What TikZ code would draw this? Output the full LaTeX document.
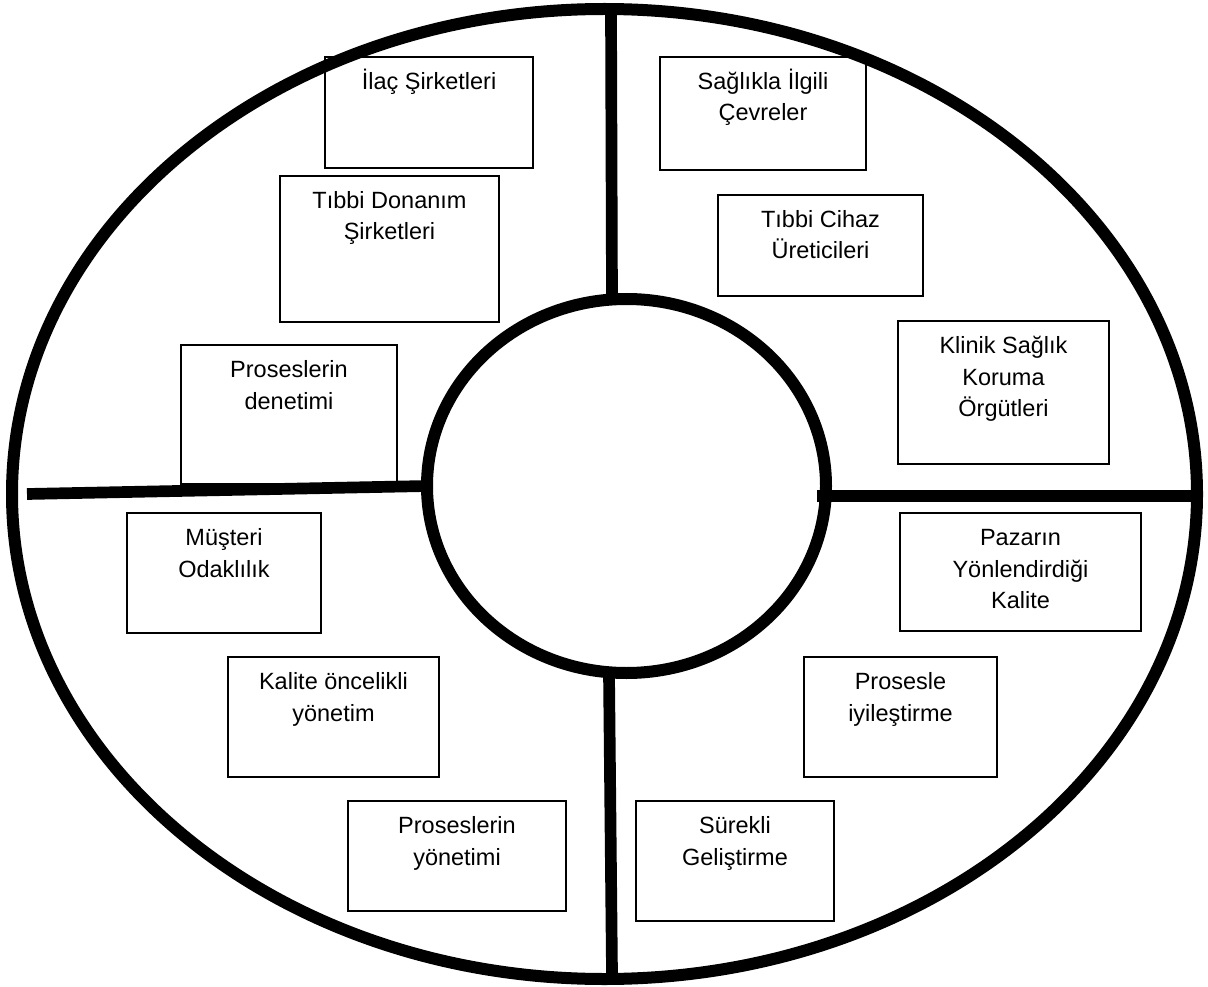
\documentclass[tikz,border=0pt]{standalone}
\usepackage{fontspec}
\setmainfont{Liberation Sans}
\tikzset{
  box/.style={draw, line width=1.8pt, inner sep=0pt, outer sep=0pt},
  lbl/.style={anchor=base, inner sep=0pt, font=\fontsize{23.5}{31.5}\selectfont},
  ring/.style={line width=12pt},
  bar/.style={line width=11.7pt}
}
\newcommand\mkbox[6]{%
  \node[box, minimum width={#4-#2}, minimum height={#5-#3}] (#1) at ({(#2+#4)/2},{(#3+#5)/2}) {};
  \node[lbl] (#1t) at ({(#2+#4)/2},{#3+32.5}) {\begin{tabular}[t]{@{}c@{}}#6\end{tabular}};
}
\begin{document}
\begin{tikzpicture}[x=1pt,y=-1pt]
\fill[white] (0,0) rectangle (1208,987);
\useasboundingbox (0,0) rectangle (1208,987);
% outer ellipse and inner circle
\draw[ring] (604.5,494) ellipse [x radius=592.5, y radius=485];
\draw[ring] (626.5,486) ellipse [x radius=199.5, y radius=187];
% dividers
\draw[bar] (611,9) -- (612,300);
\draw[bar] (27,494) -- (427,486);
\draw[bar] (817,496) -- (1192,496);
\draw[bar] (609,673) -- (612,973);
% left half boxes
\mkbox{b1}{325}{57}{533}{168}{İlaç Şirketleri}
\mkbox{b2}{280}{176}{499}{322}{Tıbbi Donanım\\Şirketleri}
\mkbox{b3}{181}{345}{397}{484}{Proseslerin\\denetimi}
\mkbox{b4}{127}{513}{321}{633}{Müşteri\\Odaklılık}
\mkbox{b5}{228}{657}{439}{777}{Kalite öncelikli\\yönetim}
\mkbox{b6}{348}{801}{566}{911}{Proseslerin\\yönetimi}
% right half boxes
\mkbox{b7}{660}{57}{866}{170}{Sağlıkla İlgili\\Çevreler}
\mkbox{b8}{718}{195}{923}{296}{Tıbbi Cihaz\\Üreticileri}
\mkbox{b9}{898}{321}{1109}{464}{Klinik Sağlık\\Koruma\\Örgütleri}
\mkbox{b10}{900}{513}{1141}{631}{Pazarın\\Yönlendirdiği\\Kalite}
\mkbox{b11}{804}{657}{997}{777}{Prosesle\\iyileştirme}
\mkbox{b12}{636}{801}{834}{921}{Sürekli\\Geliştirme}
\end{tikzpicture}
\end{document}
